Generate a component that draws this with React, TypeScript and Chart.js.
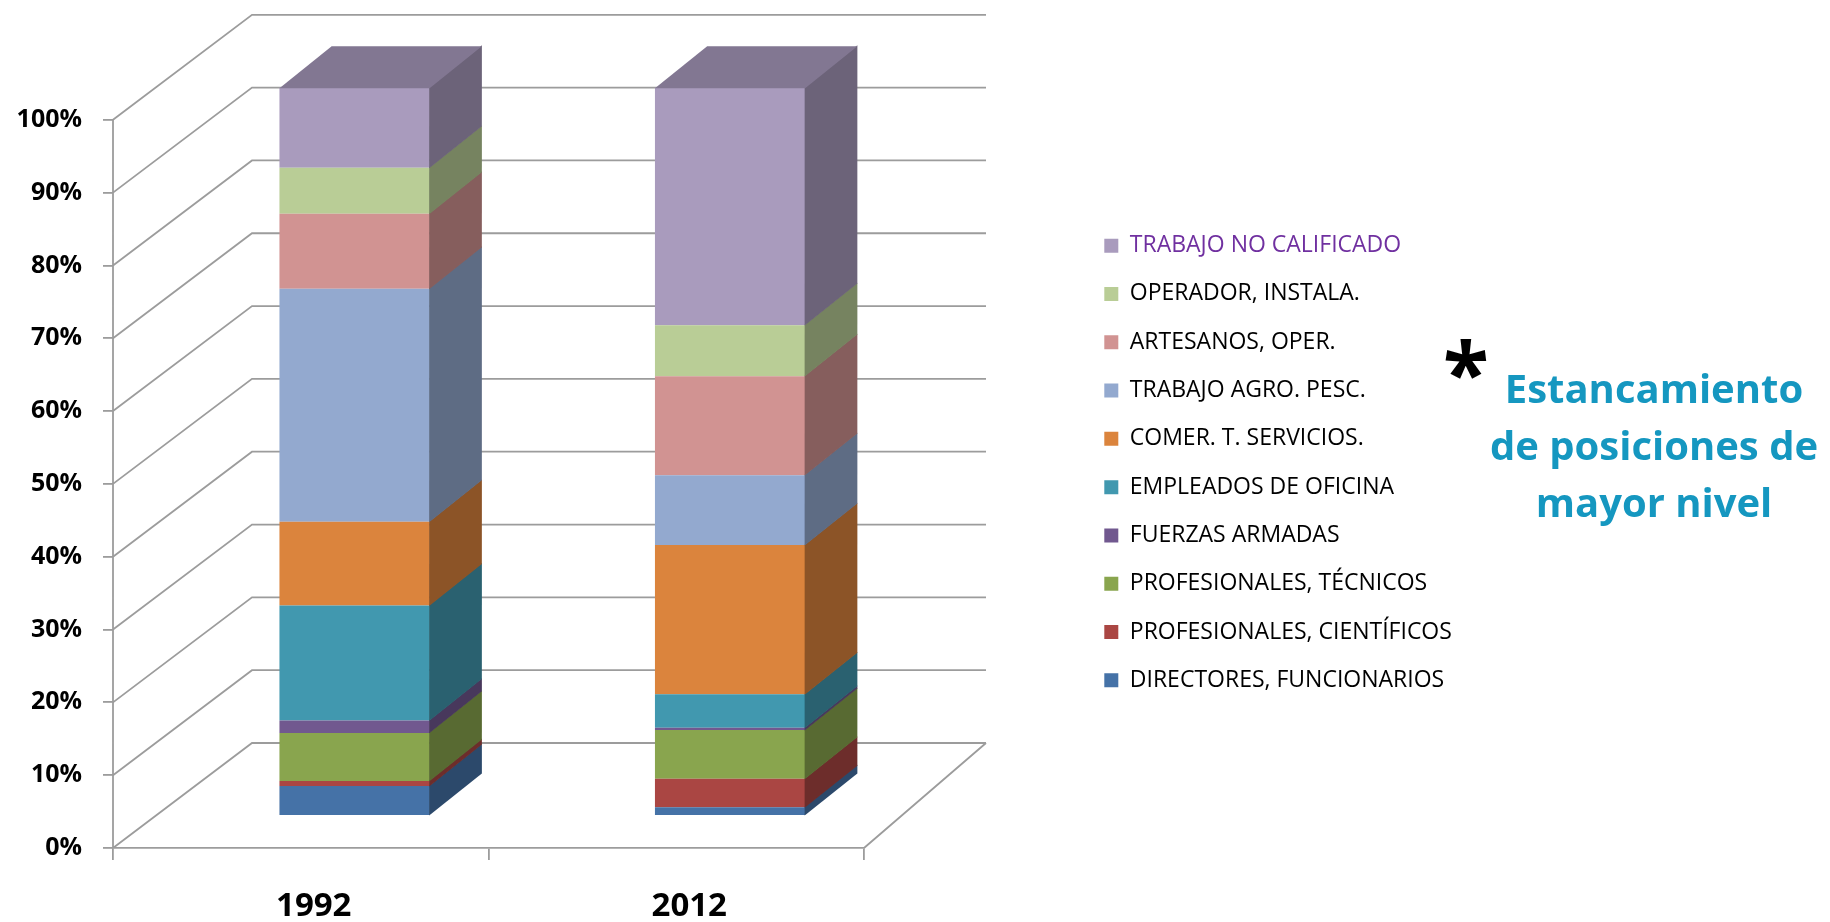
import { useEffect, useRef } from 'react';
import { Chart, registerables } from 'chart.js';

Chart.register(...registerables);

// ---------- data ----------
const categories = ['1992', '2012'];

const seriesLabels = [
  'DIRECTORES, FUNCIONARIOS',
  'PROFESIONALES, CIENTÍFICOS',
  'PROFESIONALES, TÉCNICOS',
  'FUERZAS ARMADAS',
  'EMPLEADOS DE OFICINA',
  'COMER. T. SERVICIOS.',
  'TRABAJO AGRO. PESC.',
  'ARTESANOS, OPER.',
  'OPERADOR, INSTALA.',
  'TRABAJO NO CALIFICADO',
];

const directores = [4.1, 1.2];
const cientificos = [0.7, 3.9];
const tecnicos = [6.6, 6.7];
const fuerzas = [1.7, 0.3];
const oficina = [15.8, 4.6];
const comercio = [11.5, 20.5];
const agro = [32.0, 9.6];
const artesanos = [10.3, 13.6];
const operador = [6.3, 7.0];
const noCalificado = [11.0, 32.6];

const seriesValues = [
  directores, cientificos, tecnicos, fuerzas, oficina,
  comercio, agro, artesanos, operador, noCalificado,
];

const seriesColors = [
  '#4572A7', '#AA4643', '#89A54E', '#71588F', '#4198AF',
  '#DB843D', '#93A9CF', '#D19392', '#B9CD96', '#A99BBD',
];

const yTickValues = [0, 10, 20, 30, 40, 50, 60, 70, 80, 90, 100];
const Y_MAX = 115.9;

const annotationLines = ['Estancamiento', 'de posiciones de', 'mayor nivel'];

// ---------- style / layout ----------
const GRID = '#9c9c9c';
const GRID_W = 1.8;
const DEPTH = { dxLeft: 139, dxRight: 122, dy: 105, barFront: 0.305, barBack: 0.705, barShift: 14 };
const FONT = "'Open Sans', sans-serif";
const PLOT_RIGHT = 864;
const LEGEND_LEFT = 1079;

function shade(hex: string, f: number): string {
  const n = parseInt(hex.slice(1), 16);
  const r = Math.round(((n >> 16) & 255) * f);
  const g = Math.round(((n >> 8) & 255) * f);
  const b = Math.round((n & 255) * f);
  return `rgb(${r},${g},${b})`;
}

const threeD = {
  id: 'threeD',
  beforeDatasetsDraw(chart: any) {
    const { ctx, chartArea: a, scales } = chart;
    const ys = scales.y;
    const bl = a.left + DEPTH.dxLeft;
    const br = a.right + DEPTH.dxRight;
    ctx.save();
    ctx.strokeStyle = GRID;
    ctx.lineWidth = GRID_W;
    ctx.beginPath();
    for (const v of yTickValues) {
      const y = ys.getPixelForValue(v);
      ctx.moveTo(a.left, y);
      ctx.lineTo(bl, y - DEPTH.dy);
      ctx.lineTo(br, y - DEPTH.dy);
    }
    const y0 = ys.getPixelForValue(0);
    ctx.moveTo(a.right, y0);
    ctx.lineTo(br, y0 - DEPTH.dy);
    ctx.moveTo(a.left, ys.getPixelForValue(100));
    ctx.lineTo(a.left, y0);
    ctx.stroke();
    ctx.restore();

    const avgDx = (DEPTH.dxLeft + DEPTH.dxRight) / 2;
    ctx.save();
    ctx.translate(DEPTH.barFront * avgDx + DEPTH.barShift, -DEPTH.barFront * DEPTH.dy);
  },
  afterDatasetsDraw(chart: any) {
    const { ctx } = chart;
    const avgDx = (DEPTH.dxLeft + DEPTH.dxRight) / 2;
    const t = DEPTH.barBack - DEPTH.barFront;
    const sdx = t * avgDx;
    const sdy = t * DEPTH.dy;
    const n = chart.data.datasets.length;
    for (let i = 0; i < n; i++) {
      const meta = chart.getDatasetMeta(i);
      ctx.fillStyle = shade(seriesColors[i], 0.64);
      meta.data.forEach((el: any) => {
        const p = el.getProps(['x', 'y', 'base', 'width'], true);
        const r = p.x + p.width / 2;
        const top = Math.min(p.y, p.base) - 0.4;
        const bot = Math.max(p.y, p.base) + 0.4;
        ctx.beginPath();
        ctx.moveTo(r - 0.5, top);
        ctx.lineTo(r + sdx, top - sdy);
        ctx.lineTo(r + sdx, bot - sdy);
        ctx.lineTo(r - 0.5, bot);
        ctx.closePath();
        ctx.fill();
      });
    }
    const topMeta = chart.getDatasetMeta(n - 1);
    ctx.fillStyle = shade(seriesColors[n - 1], 0.77);
    topMeta.data.forEach((el: any) => {
      const p = el.getProps(['x', 'y', 'base', 'width'], true);
      const l = p.x - p.width / 2;
      const r = p.x + p.width / 2;
      const y = Math.min(p.y, p.base) + 0.5;
      ctx.beginPath();
      ctx.moveTo(l, y);
      ctx.lineTo(l + sdx, y - sdy);
      ctx.lineTo(r + sdx, y - sdy);
      ctx.lineTo(r, y);
      ctx.closePath();
      ctx.fill();
    });
    ctx.restore();
  },
};

const spacerAxis = (weight: number, widthFn: (s: any) => number) => ({
  type: 'linear',
  position: 'right',
  display: true,
  weight,
  grid: { display: false },
  border: { display: false },
  ticks: { display: false },
  afterFit: (s: any) => { s.width = Math.max(0, widthFn(s)); },
});

export default function App() {
  const canvasRef = useRef<HTMLCanvasElement | null>(null);

  useEffect(() => {
    const canvas = canvasRef.current;
    if (!canvas) return;
    const chart = new Chart(canvas, {
      type: 'bar',
      data: {
        labels: categories,
        datasets: seriesValues.map((vals, i) => ({
          label: seriesLabels[i],
          data: vals,
          backgroundColor: seriesColors[i],
          borderWidth: 0,
          categoryPercentage: 1,
          barPercentage: 0.4,
          clip: false as any,
        })),
      },
      options: {
        responsive: true,
        maintainAspectRatio: false,
        animation: false,
        events: [],
        layout: { padding: { top: 4, right: 0, bottom: 0, left: 0 } },
        scales: {
          x: {
            stacked: true,
            offset: true,
            grid: {
              display: true,
              drawOnChartArea: false,
              drawTicks: true,
              tickLength: 12,
              color: GRID,
              lineWidth: GRID_W,
              offset: true,
            },
            border: { display: true, color: GRID, width: GRID_W },
            ticks: {
              color: '#000',
              font: { family: FONT, size: 33, weight: 'bold' },
              padding: 27,
              labelOffset: 13,
              maxRotation: 0,
            },
            afterFit: (s: any) => {
              s.height = 74;
              s.paddingLeft = 0;
              s.paddingRight = 0;
            },
          },
          y: {
            stacked: true,
            min: 0,
            max: Y_MAX,
            grid: {
              display: true,
              drawOnChartArea: false,
              drawTicks: true,
              tickLength: 10,
              color: GRID,
              lineWidth: GRID_W,
            },
            border: { display: false },
            ticks: {
              stepSize: 10,
              color: '#000',
              padding: 21,
              font: { family: FONT, size: 25, weight: 'bold' },
              callback: (v: any) => `${v}%`,
            },
            afterBuildTicks: (s: any) => {
              s.ticks = yTickValues.map((v) => ({ value: v }));
            },
            afterFit: (s: any) => {
              s.width = 113;
              s.paddingTop = 0;
              s.paddingBottom = 0;
            },
          },
          gap: spacerAxis(0, () => LEGEND_LEFT - PLOT_RIGHT),
          outer: spacerAxis(2000, (s: any) =>
            s.chart.width - LEGEND_LEFT - (s.chart.legend ? s.chart.legend.width : 0)),
        },
        plugins: {
          tooltip: { enabled: false },
          legend: {
            display: true,
            position: 'right',
            align: 'center',
            reverse: true,
            maxWidth: 1000,
            labels: {
              boxWidth: 14,
              boxHeight: 14,
              padding: 25.3,
              color: '#000',
              font: { family: FONT, size: 23 },
              generateLabels: (c: any) => {
                const items = (Chart.defaults.plugins.legend.labels as any).generateLabels(c);
                return items.map((it: any) => ({
                  ...it,
                  lineWidth: 0,
                  strokeStyle: 'rgba(0,0,0,0)',
                  fontColor: it.datasetIndex === seriesValues.length - 1 ? '#7030A0' : '#000000',
                }));
              },
            },
          },
        },
      } as any,
      plugins: [threeD],
    });
    return () => chart.destroy();
  }, []);

  return (
    <div
      style={{
        position: 'fixed', left: 0, top: 0, width: 1830, height: 922,
        background: '#fff', overflow: 'hidden',
      }}
    >
      <div style={{ position: 'relative', width: 1830, height: 922 }}>
        <canvas ref={canvasRef} />
      </div>
      <div
        style={{
          position: 'absolute', left: 1443, top: 329, fontFamily: FONT,
          fontWeight: 'bold', fontSize: 84, lineHeight: '84px', color: '#000',
        }}
      >
        *
      </div>
      <div
        style={{
          position: 'absolute', left: 1474, top: 359, width: 360, textAlign: 'center',
          fontFamily: FONT, fontWeight: 'bold', fontSize: 40, lineHeight: '57px', color: '#1597C0',
          whiteSpace: 'nowrap',
        }}
      >
        {annotationLines.map((l) => (
          <div key={l}>{l}</div>
        ))}
      </div>
    </div>
  );
}
